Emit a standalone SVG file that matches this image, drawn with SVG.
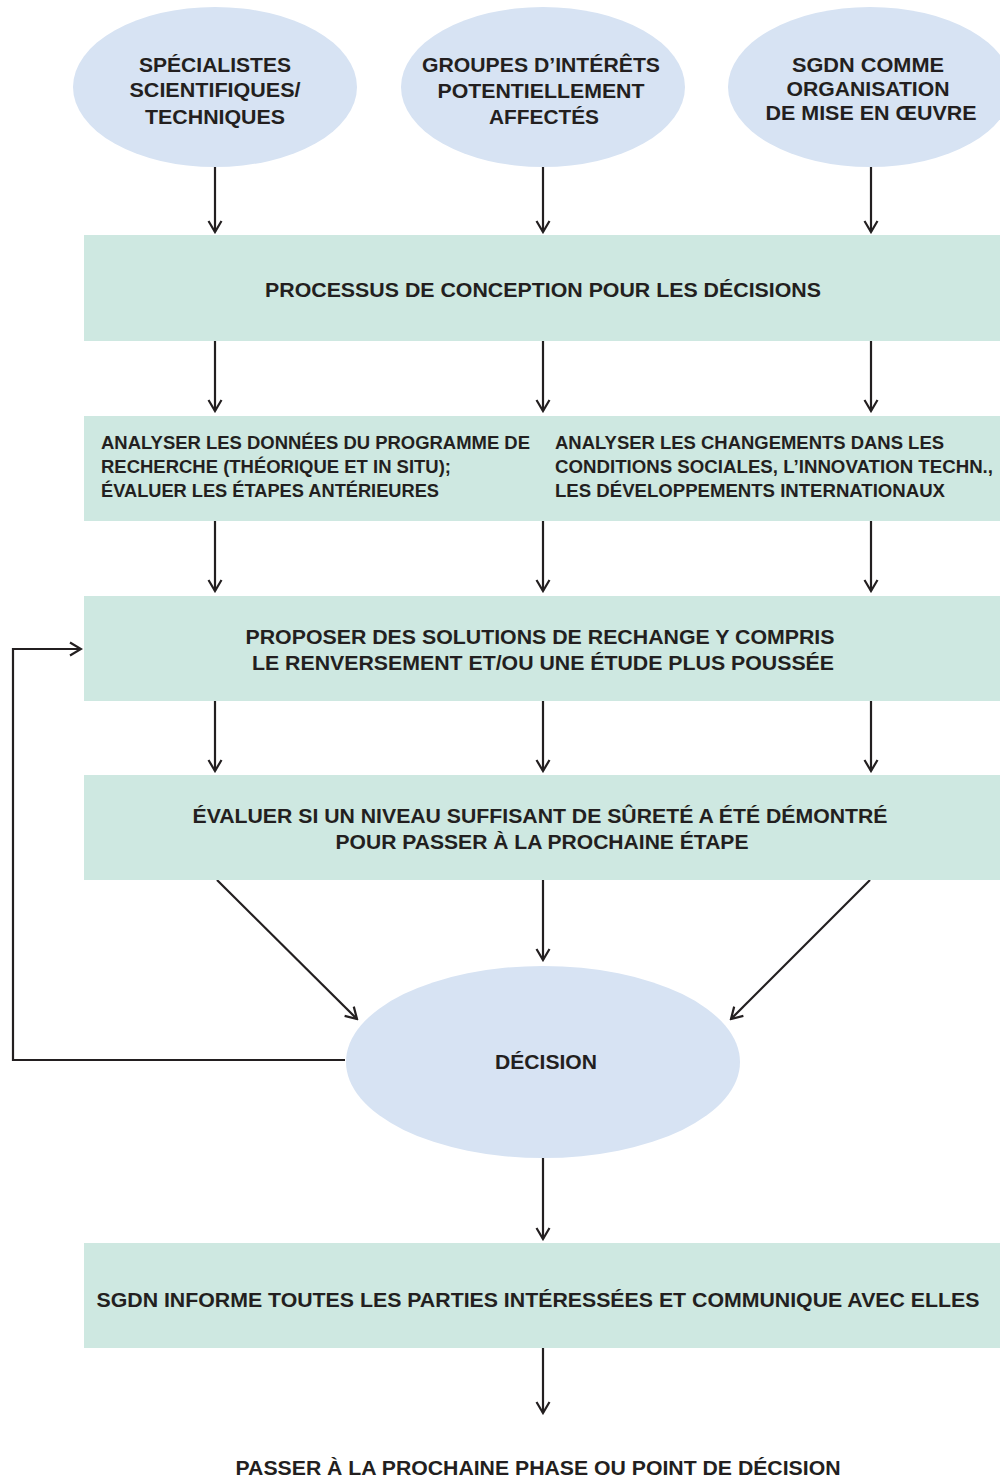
<svg xmlns="http://www.w3.org/2000/svg" width="1000" height="1478" viewBox="0 0 1000 1478">
<defs>
<style>
.ell{fill:#d7e3f3}
.box{fill:#cee8e1}
.t{font-family:"Liberation Sans",Arial,sans-serif;font-weight:bold;fill:#231f20;text-anchor:middle}
.l{text-anchor:start}
.c{stroke:#231f20;stroke-width:2.2;fill:none}
</style>
<marker id="ah" markerUnits="userSpaceOnUse" viewBox="-13 -8 15 16" markerWidth="15" markerHeight="16" refX="0" refY="0" orient="auto">
<path d="M-11,-6.5 L0,0 L-11,6.5" fill="none" stroke="#231f20" stroke-width="2.2"/>
</marker>
</defs>
<rect width="1000" height="1478" fill="#ffffff"/>

<g id="connectors" class="c">
<line x1="215" y1="167" x2="215" y2="232" marker-end="url(#ah)"/>
<line x1="543" y1="167" x2="543" y2="232" marker-end="url(#ah)"/>
<line x1="871" y1="167" x2="871" y2="232" marker-end="url(#ah)"/>
<line x1="215" y1="341" x2="215" y2="411" marker-end="url(#ah)"/>
<line x1="543" y1="341" x2="543" y2="411" marker-end="url(#ah)"/>
<line x1="871" y1="341" x2="871" y2="411" marker-end="url(#ah)"/>
<line x1="215" y1="521" x2="215" y2="591" marker-end="url(#ah)"/>
<line x1="543" y1="521" x2="543" y2="591" marker-end="url(#ah)"/>
<line x1="871" y1="521" x2="871" y2="591" marker-end="url(#ah)"/>
<line x1="215" y1="701" x2="215" y2="771" marker-end="url(#ah)"/>
<line x1="543" y1="701" x2="543" y2="771" marker-end="url(#ah)"/>
<line x1="871" y1="701" x2="871" y2="771" marker-end="url(#ah)"/>
<line x1="217" y1="880" x2="357" y2="1019" marker-end="url(#ah)"/>
<line x1="543" y1="880" x2="543" y2="960" marker-end="url(#ah)"/>
<line x1="870" y1="880" x2="731" y2="1019" marker-end="url(#ah)"/>
<line x1="543" y1="1157" x2="543" y2="1239" marker-end="url(#ah)"/>
<line x1="543" y1="1348" x2="543" y2="1413" marker-end="url(#ah)"/>
<polyline points="345,1060 13,1060 13,649 81,649" marker-end="url(#ah)"/>
</g>

<g id="n-specialistes">
<ellipse class="ell" cx="215" cy="87" rx="142" ry="80"/>
<text class="t" font-size="20.5"><tspan x="215" y="72" textLength="152" lengthAdjust="spacingAndGlyphs">SPÉCIALISTES</tspan><tspan x="215" y="97" textLength="171" lengthAdjust="spacingAndGlyphs">SCIENTIFIQUES/</tspan><tspan x="215" y="124" textLength="140" lengthAdjust="spacingAndGlyphs">TECHNIQUES</tspan></text>
</g>

<g id="n-groupes">
<ellipse class="ell" cx="543" cy="87" rx="142" ry="80"/>
<text class="t" font-size="20.5"><tspan x="541" y="72" textLength="238" lengthAdjust="spacingAndGlyphs">GROUPES D’INTÉRÊTS</tspan><tspan x="541" y="98" textLength="207" lengthAdjust="spacingAndGlyphs">POTENTIELLEMENT</tspan><tspan x="544" y="124" textLength="110" lengthAdjust="spacingAndGlyphs">AFFECTÉS</tspan></text>
</g>

<g id="n-sgdn">
<ellipse class="ell" cx="870" cy="87" rx="142" ry="80"/>
<text class="t" font-size="20.5"><tspan x="868" y="72" textLength="152" lengthAdjust="spacingAndGlyphs">SGDN COMME</tspan><tspan x="868" y="96" textLength="163" lengthAdjust="spacingAndGlyphs">ORGANISATION</tspan><tspan x="871" y="120" textLength="211" lengthAdjust="spacingAndGlyphs">DE MISE EN ŒUVRE</tspan></text>
</g>

<g id="n-processus">
<rect class="box" x="84" y="235" width="916" height="106"/>
<text class="t" font-size="19.5" x="543" y="297" textLength="556" lengthAdjust="spacingAndGlyphs">PROCESSUS DE CONCEPTION POUR LES DÉCISIONS</text>
</g>

<g id="n-analyser">
<rect class="box" x="84" y="416" width="916" height="105"/>
<text class="t l" font-size="17.5"><tspan x="101" y="449" textLength="429" lengthAdjust="spacingAndGlyphs">ANALYSER LES DONNÉES DU PROGRAMME DE</tspan><tspan x="101" y="473" textLength="350" lengthAdjust="spacingAndGlyphs">RECHERCHE (THÉORIQUE ET IN SITU);</tspan><tspan x="101" y="497" textLength="338" lengthAdjust="spacingAndGlyphs">ÉVALUER LES ÉTAPES ANTÉRIEURES</tspan></text>
<text class="t l" font-size="17.5"><tspan x="555" y="449" textLength="389" lengthAdjust="spacingAndGlyphs">ANALYSER LES CHANGEMENTS DANS LES</tspan><tspan x="555" y="473" textLength="438" lengthAdjust="spacingAndGlyphs">CONDITIONS SOCIALES, L’INNOVATION TECHN.,</tspan><tspan x="555" y="497" textLength="390" lengthAdjust="spacingAndGlyphs">LES DÉVELOPPEMENTS INTERNATIONAUX</tspan></text>
</g>

<g id="n-proposer">
<rect class="box" x="84" y="596" width="916" height="105"/>
<text class="t" font-size="19.5"><tspan x="540" y="644" textLength="589" lengthAdjust="spacingAndGlyphs">PROPOSER DES SOLUTIONS DE RECHANGE Y COMPRIS</tspan><tspan x="543" y="670" textLength="582" lengthAdjust="spacingAndGlyphs">LE RENVERSEMENT ET/OU UNE ÉTUDE PLUS POUSSÉE</tspan></text>
</g>

<g id="n-evaluer">
<rect class="box" x="84" y="775" width="916" height="105"/>
<text class="t" font-size="19.5"><tspan x="540" y="823" textLength="695" lengthAdjust="spacingAndGlyphs">ÉVALUER SI UN NIVEAU SUFFISANT DE SÛRETÉ A ÉTÉ DÉMONTRÉ</tspan><tspan x="542" y="849" textLength="413" lengthAdjust="spacingAndGlyphs">POUR PASSER À LA PROCHAINE ÉTAPE</tspan></text>
</g>

<g id="n-decision">
<ellipse class="ell" cx="543" cy="1062" rx="197" ry="96"/>
<text class="t" font-size="19.5" x="546" y="1069" textLength="102" lengthAdjust="spacingAndGlyphs">DÉCISION</text>
</g>

<g id="n-informe">
<rect class="box" x="84" y="1243" width="916" height="105"/>
<text class="t" font-size="20.5" x="538" y="1307" textLength="883" lengthAdjust="spacingAndGlyphs">SGDN INFORME TOUTES LES PARTIES INTÉRESSÉES ET COMMUNIQUE AVEC ELLES</text>
</g>

<g id="n-passer">
<text class="t" font-size="20.5" x="538" y="1475" textLength="605" lengthAdjust="spacingAndGlyphs">PASSER À LA PROCHAINE PHASE OU POINT DE DÉCISION</text>
</g>
</svg>
